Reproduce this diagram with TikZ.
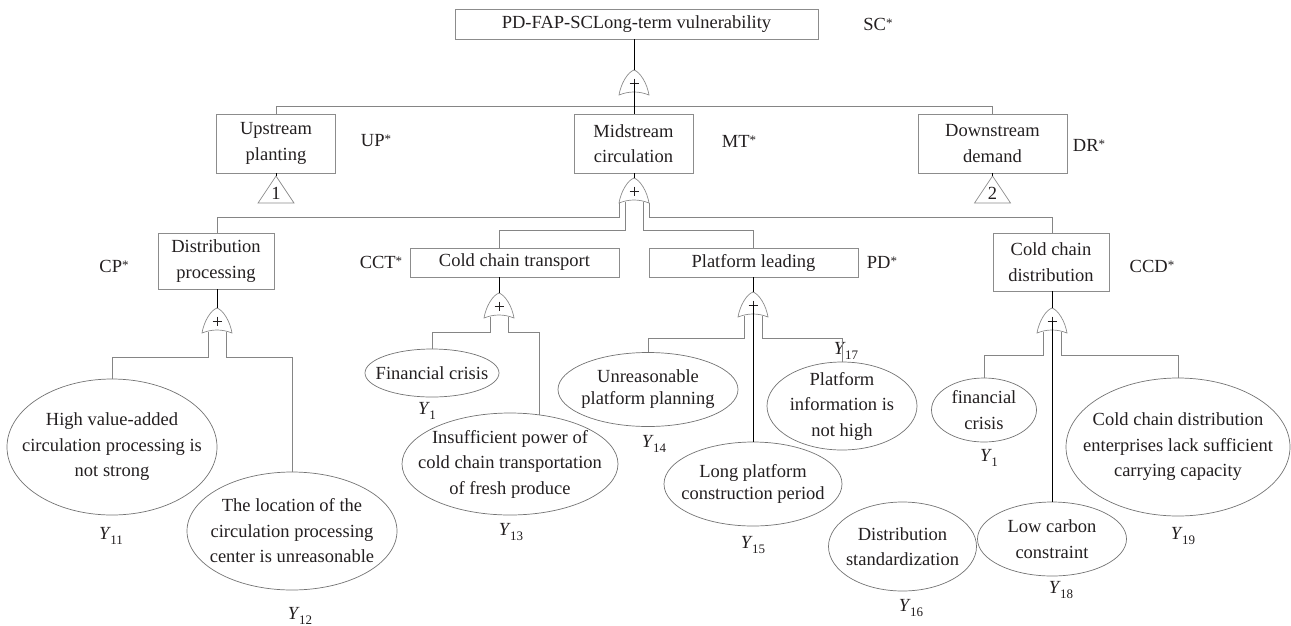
\documentclass[tikz,border=0pt]{standalone}
\usepackage{fontspec}
\setmainfont{Liberation Serif}
\usetikzlibrary{shapes.geometric}

\definecolor{frame}{gray}{0.55}
\definecolor{wire}{gray}{0.52}
\definecolor{rim}{gray}{0.45}
\definecolor{ink}{HTML}{231F20}

% raised asterisk and subscripted event labels
\newcommand\supstar{\raisebox{3pt}{\fontsize{13}{13}\selectfont *}}
\newcommand\ylab[1]{\textit{Y}\kern-0.5pt\raisebox{-4.5pt}{\fontsize{13}{13}\selectfont #1}}

\tikzset{
  base/.style={font=\fontsize{18.5}{25.5}\selectfont, text=ink},
  event/.style={base, draw=frame, line width=0.8pt, rectangle, inner sep=0pt, align=center},
  cause/.style={draw=rim, line width=0.7pt, ellipse, inner sep=0pt},
  causetext/.style={base, inner sep=0pt, align=center},
  tag/.style={base, inner sep=0pt},
  stem/.style={black, line width=1pt},
  branch/.style={wire, line width=0.9pt},
  % OR gate, anchored at the middle of its base
  orgate/.pic={
    \draw[frame, line width=0.7pt, fill=white]
      (-15,0) .. controls (-13,-12) and (-6,-23) .. (0,-25)
              .. controls (6,-23) and (13,-12) .. (15,0)
              .. controls (5,-4) and (-5,-4) .. (-15,0) -- cycle;
    \draw[ink, line width=0.8pt] (-4.5,-12) -- (4.5,-12) (0,-16.5) -- (0,-7.5);
    \coordinate (-apex) at (0,-25);
    \coordinate (-mid) at (0,-12);
    \coordinate (-l) at (-9,-1.5);
    \coordinate (-r) at (9,-1.5);
    \coordinate (-ol) at (-15,0);
    \coordinate (-or) at (15,0);
  },
  % transfer triangle, anchored at the middle of its base
  transfer/.pic={
    \draw[frame, line width=0.7pt] (0,-27) -- (18,0) -- (-18,0) -- cycle;
    \node[base, inner sep=0pt] (-num) at (0,-10) {#1};
    \coordinate (-apex) at (0,-27);
  },
}

\begin{document}
\begin{tikzpicture}[x=1pt,y=-1pt]
\useasboundingbox (0,0) rectangle (1291,625);

% events
\node[event, minimum width=363pt, minimum height=30pt] (top) at (636.5,24) {PD-FAP-SCLong-term vulnerability};
\node[event, minimum width=119pt, minimum height=59pt] (up) at (276,143.5) {Upstream\\planting};
\node[event, minimum width=119pt, minimum height=59pt] (mid) at (633.5,143.5) {Midstream\\circulation};
\node[event, minimum width=149pt, minimum height=59pt] (down) at (992.5,143.5) {Downstream\\demand};
\node[event, minimum width=116pt, minimum height=56pt] (cp) at (216,261) {Distribution\\processing};
\node[event, minimum width=209pt, minimum height=29pt] (cct) at (514.5,262.5) {Cold chain transport};
\node[event, minimum width=209pt, minimum height=29pt] (pl) at (753.5,262.5) {Platform leading};
\node[event, minimum width=116pt, minimum height=58pt] (ccd) at (1051,262) {Cold chain\\distribution};

% event codes
\node[tag] (sc) at (878,24) {SC\supstar};
\node[tag] (upc) at (376,141) {UP\supstar};
\node[tag] (mtc) at (739,141) {MT\supstar};
\node[tag] (drc) at (1089,145) {DR\supstar};
\node[tag] (cpc) at (114,266) {CP\supstar};
\node[tag] (cctc) at (381,262) {CCT\supstar};
\node[tag] (pdc) at (882,262) {PD\supstar};
\node[tag] (ccdc) at (1152,266) {CCD\supstar};

% basic events
\node[cause, minimum width=210pt, minimum height=136pt] (e11) at (112,447) {};
\node[causetext] (e11t) at (e11) {High value-added\\circulation processing is\\not strong};
\node[cause, minimum width=210pt, minimum height=118pt] (e12) at (292,531) {};
\node[causetext] (e12t) at (e12) {The location of the\\circulation processing\\center is unreasonable};
\node[cause, minimum width=134pt, minimum height=48pt] (e1a) at (432,373) {};
\node[causetext] (e1at) at (e1a) {Financial crisis};
\node[cause, minimum width=216pt, minimum height=102pt] (e13) at (510,464) {};
\node[causetext] (e13t) at (e13) {Insufficient power of\\cold chain transportation\\of fresh produce};
\node[cause, minimum width=180pt, minimum height=74pt] (e14) at (648,389.5) {};
\node[causetext, font=\fontsize{18.5}{22}\selectfont] (e14t) at (e14) {Unreasonable\\platform planning};
\node[cause, minimum width=150pt, minimum height=88pt] (e17) at (842,406) {};
\node[causetext] (e17t) at (e17) {Platform\\information is\\not high};
\node[cause, minimum width=178pt, minimum height=84pt] (e15) at (753,484) {};
\node[causetext, font=\fontsize{18.5}{22}\selectfont] (e15t) at (e15) {Long platform\\construction period};
\node[cause, minimum width=105pt, minimum height=64pt] (e1b) at (984,410) {};
\node[causetext] (e1bt) at (e1b) {financial\\crisis};
\node[cause, minimum width=224pt, minimum height=138pt] (e19) at (1178,447) {};
\node[causetext] (e19t) at (e19) {Cold chain distribution\\enterprises lack sufficient\\carrying capacity};
\node[cause, minimum width=148pt, minimum height=89pt] (e16) at (902.5,546.5) {};
\node[causetext] (e16t) at (e16) {Distribution\\standardization};
\node[cause, minimum width=149pt, minimum height=74pt] (e18) at (1052,539) {};
\node[causetext] (e18t) at (e18) {Low carbon\\constraint};

% basic event labels
\node[tag] (y11) at (111,536) {\ylab{11}};
\node[tag] (y12) at (300,616) {\ylab{12}};
\node[tag] (y1a) at (427,411) {\ylab{1}};
\node[tag] (y13) at (511,532) {\ylab{13}};
\node[tag] (y14) at (654,444) {\ylab{14}};
\node[tag] (y17) at (846,351) {\ylab{17}};
\node[tag] (y15) at (753,545) {\ylab{15}};
\node[tag] (y1b) at (989,458) {\ylab{1}};
\node[tag] (y19) at (1183,536) {\ylab{19}};
\node[tag] (y16) at (911,608) {\ylab{16}};
\node[tag] (y18) at (1061,590) {\ylab{18}};

% transfer triangles
\pic (t1) at (276,203) {transfer=1};
\pic (t2) at (992.5,203) {transfer=2};

% gates
\pic (g0) at (634,95) {orgate};
\pic (gm) at (634,203) {orgate};
\pic (gcp) at (217,333) {orgate};
\pic (gct) at (499,318) {orgate};
\pic (gpl) at (753,317) {orgate};
\pic (gcd) at (1052,333) {orgate};

% top-level bus
\draw[branch] (up.north) -- ++(0,-7) -| (down.north);

% stems
\draw[stem] (top.south -| g0-apex) -- (g0-apex);
\draw[stem] (g0-mid) -- (mid.north -| g0-mid);
\draw[stem] (mid.south -| gm-apex) -- (gm-apex);
\draw[stem] (up.south -| t1-apex) -- (t1-apex);
\draw[stem] (down.south -| t2-apex) -- (t2-apex);
\draw[stem] (cp.south -| gcp-apex) -- (gcp-apex);
\draw[stem] (cct.south -| gct-apex) -- (gct-apex);
\draw[stem] (pl.south -| gpl-apex) -- (gpl-apex);
\draw[stem] (ccd.south -| gcd-apex) -- (gcd-apex);
\draw[stem] (gpl-mid) -- (e15.north);
\draw[stem] (gcd-mid) -- (e18.north);

% midstream branches
\draw[branch] (gm-ol) -- ++(0,14) -| (cp.north -| gcp-apex);
\draw[branch] (gm-l) -- ++(0,28.5) -| (cct.north -| gct-apex);
\draw[branch] (gm-r) -- ++(0,28.5) -| (pl.north -| gpl-apex);
\draw[branch] (gm-or) -- ++(0,14) -| (ccd.north -| gcd-apex);

% lower branches
\draw[branch] (gcp-l) -- ++(0,25.5) -| (e11.north);
\draw[branch] (gcp-r) -- ++(0,25.5) -| (e12.north);
\draw[branch] (gct-l) -- ++(0,15.5) -| (e1a.north);
\draw[branch] (gct-r) -- ++(0,15.5) -| (e13.59);
\draw[branch] (gpl-l) -- ++(0,22.5) -| (e14.north);
\draw[branch] (gpl-r) -- ++(0,22.5) -| (e17.north);
\draw[branch] (gcd-l) -- ++(0,23.5) -| (e1b.north);
\draw[branch] (gcd-r) -- ++(0,23.5) -| (e19.north);
\end{tikzpicture}
\end{document}
